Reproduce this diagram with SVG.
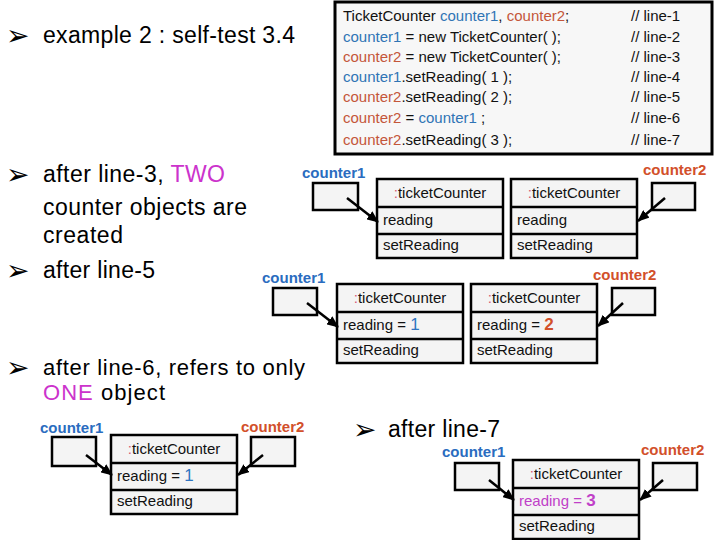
<svg xmlns="http://www.w3.org/2000/svg" width="720" height="540" viewBox="0 0 720 540">
<defs>
<style>
text{font-family:"Liberation Sans",Arial,sans-serif;}
.big{font-size:23px;fill:#000;}
.big2{font-size:22px;fill:#000;}
.bul{font-family:"DejaVu Sans",sans-serif;font-size:28px;fill:#000;}
.code{font-size:15px;fill:#111;}
.c1{fill:#2f74b5;}
.c2{fill:#c4563a;}
.mag{fill:#cc33cc;}
.lab1{font-size:15px;font-weight:bold;fill:#2a6cbf;}
.lab2{font-size:15px;font-weight:bold;fill:#d2502a;}
.otxt{font-size:15px;fill:#111;}
.colon{fill:#d65a78;}
.box{fill:#f4f4f4;stroke:#000;stroke-width:2.5;}
.div{stroke:#000;stroke-width:2.5;}
.arr{stroke:#000;stroke-width:2.5;fill:none;marker-end:url(#ah);}
</style>
<marker id="ah" markerUnits="userSpaceOnUse" markerWidth="12" markerHeight="10" refX="11" refY="5" orient="auto">
<path d="M0,0 L12,5 L0,10 Z" fill="#000"/>
</marker>
<g id="obj">
<rect class="box" x="0" y="0" width="126" height="79"/>
<line class="div" x1="0" y1="28" x2="126" y2="28"/>
<line class="div" x1="0" y1="55" x2="126" y2="55"/>
</g>
</defs>
<rect width="720" height="540" fill="#fff"/>

<g id="code">
<rect x="335" y="2" width="377" height="152" fill="#f7f7f7" stroke="#000" stroke-width="3"/>
<text class="code" x="343" y="21">TicketCounter <tspan class="c1">counter1</tspan>, <tspan class="c2">counter2</tspan>;</text>
<text class="code" x="343" y="41.5"><tspan class="c1">counter1</tspan> = new TicketCounter( );</text>
<text class="code" x="343" y="62"><tspan class="c2">counter2</tspan> = new TicketCounter( );</text>
<text class="code" x="343" y="82"><tspan class="c1">counter1</tspan>.setReading( 1 );</text>
<text class="code" x="343" y="102"><tspan class="c2">counter2</tspan>.setReading( 2 );</text>
<text class="code" x="343" y="123"><tspan class="c2">counter2</tspan> = <tspan class="c1">counter1</tspan> ;</text>
<text class="code" x="343" y="144.5"><tspan class="c2">counter2</tspan>.setReading( 3 );</text>
<text class="code" x="631" y="21">// line-1</text>
<text class="code" x="631" y="41.5">// line-2</text>
<text class="code" x="631" y="62">// line-3</text>
<text class="code" x="631" y="82">// line-4</text>
<text class="code" x="631" y="102">// line-5</text>
<text class="code" x="631" y="123">// line-6</text>
<text class="code" x="631" y="144.5">// line-7</text>
</g>

<g id="bullets">
<text class="bul" x="6" y="45">➢</text>
<text class="big" x="43" y="43" textLength="252" lengthAdjust="spacing">example 2 : self-test 3.4</text>
<text class="bul" x="6" y="184">➢</text>
<text class="big" x="43" y="182" textLength="182" lengthAdjust="spacing">after line-3, <tspan class="mag">TWO</tspan></text>
<text class="big" x="43" y="215" textLength="204" lengthAdjust="spacing">counter objects are</text>
<text class="big" x="43" y="243" textLength="80" lengthAdjust="spacing">created</text>
<text class="bul" x="6" y="280">➢</text>
<text class="big" x="43" y="278" textLength="112" lengthAdjust="spacing">after line-5</text>
<text class="bul" x="6" y="377">➢</text>
<text class="big2" x="43" y="375" textLength="262" lengthAdjust="spacing">after line-6, refers to only</text>
<text class="big2" x="43" y="400" textLength="122" lengthAdjust="spacing"><tspan class="mag">ONE</tspan> object</text>
<text class="bul" x="353" y="439">➢</text>
<text class="big" x="388" y="437" textLength="112" lengthAdjust="spacing">after line-7</text>
</g>

<!-- after line-3 -->
<g id="d1-counter1">
<text class="lab1" x="302" y="178">counter1</text>
<rect class="box" x="313" y="183" width="45" height="27"/>
</g>
<g id="d1-obj1" transform="translate(377,179)">
<use href="#obj"/>
<text class="otxt" x="63" y="19" text-anchor="middle"><tspan class="colon">:</tspan>ticketCounter</text>
<text class="otxt" x="6" y="46">reading</text>
<text class="otxt" x="6" y="71">setReading</text>
</g>
<g id="d1-obj2" transform="translate(511,179)">
<use href="#obj"/>
<text class="otxt" x="63" y="19" text-anchor="middle"><tspan class="colon">:</tspan>ticketCounter</text>
<text class="otxt" x="6" y="46">reading</text>
<text class="otxt" x="6" y="71">setReading</text>
</g>
<g id="d1-counter2">
<text class="lab2" x="643" y="175">counter2</text>
<rect class="box" x="652" y="183" width="43" height="27"/>
</g>

<!-- after line-5 -->
<g id="d2-counter1">
<text class="lab1" x="262" y="283">counter1</text>
<rect class="box" x="273" y="288" width="44" height="27"/>
</g>
<g id="d2-obj1" transform="translate(337,284)">
<use href="#obj"/>
<text class="otxt" x="63" y="19" text-anchor="middle"><tspan class="colon">:</tspan>ticketCounter</text>
<text class="otxt" x="6" y="46">reading = <tspan fill="#2f74c0" font-size="17">1</tspan></text>
<text class="otxt" x="6" y="71">setReading</text>
</g>
<g id="d2-obj2" transform="translate(471,284)">
<use href="#obj"/>
<text class="otxt" x="63" y="19" text-anchor="middle"><tspan class="colon">:</tspan>ticketCounter</text>
<text class="otxt" x="6" y="46">reading = <tspan fill="#d2502a" font-size="17" font-weight="bold">2</tspan></text>
<text class="otxt" x="6" y="71">setReading</text>
</g>
<g id="d2-counter2">
<text class="lab2" x="593" y="280">counter2</text>
<rect class="box" x="612" y="288" width="43" height="27"/>
</g>

<!-- after line-6 -->
<g id="d3-counter1">
<text class="lab1" x="40" y="433">counter1</text>
<rect class="box" x="52" y="437" width="44" height="29"/>
</g>
<g id="d3-obj" transform="translate(111,435)">
<use href="#obj"/>
<text class="otxt" x="63" y="19" text-anchor="middle"><tspan class="colon">:</tspan>ticketCounter</text>
<text class="otxt" x="6" y="46">reading = <tspan fill="#2f74c0" font-size="17">1</tspan></text>
<text class="otxt" x="6" y="71">setReading</text>
</g>
<g id="d3-counter2">
<text class="lab2" x="241" y="432">counter2</text>
<rect class="box" x="251" y="437" width="44" height="29"/>
</g>

<!-- after line-7 -->
<g id="d4-counter1">
<text class="lab1" x="442" y="457">counter1</text>
<rect class="box" x="455" y="463" width="44" height="27"/>
</g>
<g id="d4-obj" transform="translate(513,460)">
<use href="#obj"/>
<text class="otxt" x="63" y="19" text-anchor="middle"><tspan class="colon">:</tspan>ticketCounter</text>
<text class="otxt" x="6" y="46" style="fill:#c040c8">reading = <tspan font-size="17" font-weight="bold">3</tspan></text>
<text class="otxt" x="6" y="71">setReading</text>
</g>
<g id="d4-counter2">
<text class="lab2" x="641" y="455">counter2</text>
<rect class="box" x="653" y="463" width="44" height="27"/>
</g>

<g id="connectors">
<line class="arr" x1="347" y1="198" x2="378" y2="222"/>
<line class="arr" x1="665" y1="198" x2="638" y2="221"/>
<line class="arr" x1="307" y1="303" x2="338" y2="327"/>
<line class="arr" x1="623" y1="303" x2="598" y2="326"/>
<line class="arr" x1="86" y1="455" x2="112" y2="475"/>
<line class="arr" x1="263" y1="455" x2="238" y2="475"/>
<line class="arr" x1="489" y1="480" x2="514" y2="500"/>
<line class="arr" x1="663" y1="480" x2="640" y2="500"/>
</g>
</svg>
